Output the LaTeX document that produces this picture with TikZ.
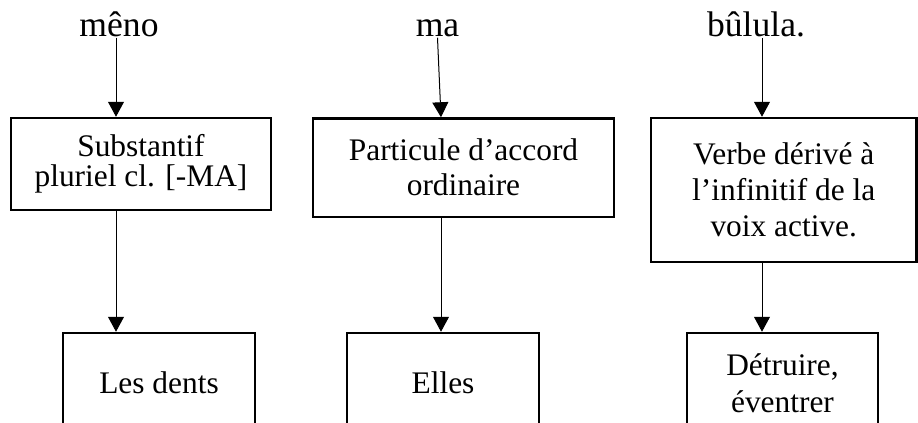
\documentclass[tikz,border=0pt]{standalone}
\usepackage{fontspec}
\setmainfont{Liberation Serif}
\usetikzlibrary{arrows.meta}

\begin{document}
\begin{tikzpicture}[x=0.5pt, y=-0.5pt]
            \tikzstyle{word} = [inner sep=0pt, anchor=base, font=\fontsize{17.8}{21}\selectfont]
            \tikzstyle{gloss} = [rectangle, draw, line width=1.25pt, inner sep=0pt, align=center,
                                 font=\fontsize{15.7}{17.5}\selectfont]
            \tikzstyle{link} = [-{Triangle[length=7.5pt, width=8pt]}, line width=0.5pt]

            \useasboundingbox (0,0) rectangle (918,423);
            \clip (0,0) rectangle (918,423);

            % mots de la phrase
            \node (meno)   [word] at (119,37)   {mêno};
            \node (ma)     [word] at (437.5,37) {ma};
            \node (bulula) [word] at (756,37)   {bûlula.};

            % analyse
            \node (subst) [gloss, minimum width=130pt, minimum height=46pt,
                           font=\fontsize{15.7}{15}\selectfont] at (141,164)
                          {Substantif\\ pluriel cl. [-MA]};
            \node (part)  [gloss, minimum width=150.5pt, minimum height=49.25pt] at (463.5,167.75)
                          {Particule d’accord\\ ordinaire};
            \node (verbe) [gloss, minimum width=132.75pt, minimum height=72pt,
                           font=\fontsize{15.7}{18}\selectfont] at (783.75,190)
                          {Verbe dérivé à\\ l’infinitif de la\\ voix active.};

            % traduction
            \node (dents) [gloss, minimum width=96pt, minimum height=50pt] at (159,383)   {Les dents};
            \node (elles) [gloss, minimum width=96pt, minimum height=50pt] at (443,383)   {Elles};
            \node (detr)  [gloss, minimum width=95.5pt, minimum height=50pt,
                           font=\fontsize{15.7}{18.5}\selectfont] at (782.5,383) {Détruire,\\ éventrer};

            \coordinate (col1) at (116,0);
            \coordinate (col2) at (441,0);
            \coordinate (col3) at (762,0);

            \draw [link] (meno.south -| col1) -- (subst.north -| col1);
            \draw [link] (ma.south) -- (part.north -| col2);
            \draw [link] (bulula.south -| col3) -- (verbe.north -| col3);
            \draw [link] (subst.south -| col1) -- (dents.north -| col1);
            \draw [link] (part.south -| col2) -- (elles.north -| col2);
            \draw [link] (verbe.south -| col3) -- (detr.north -| col3);
\end{tikzpicture}
\end{document}
